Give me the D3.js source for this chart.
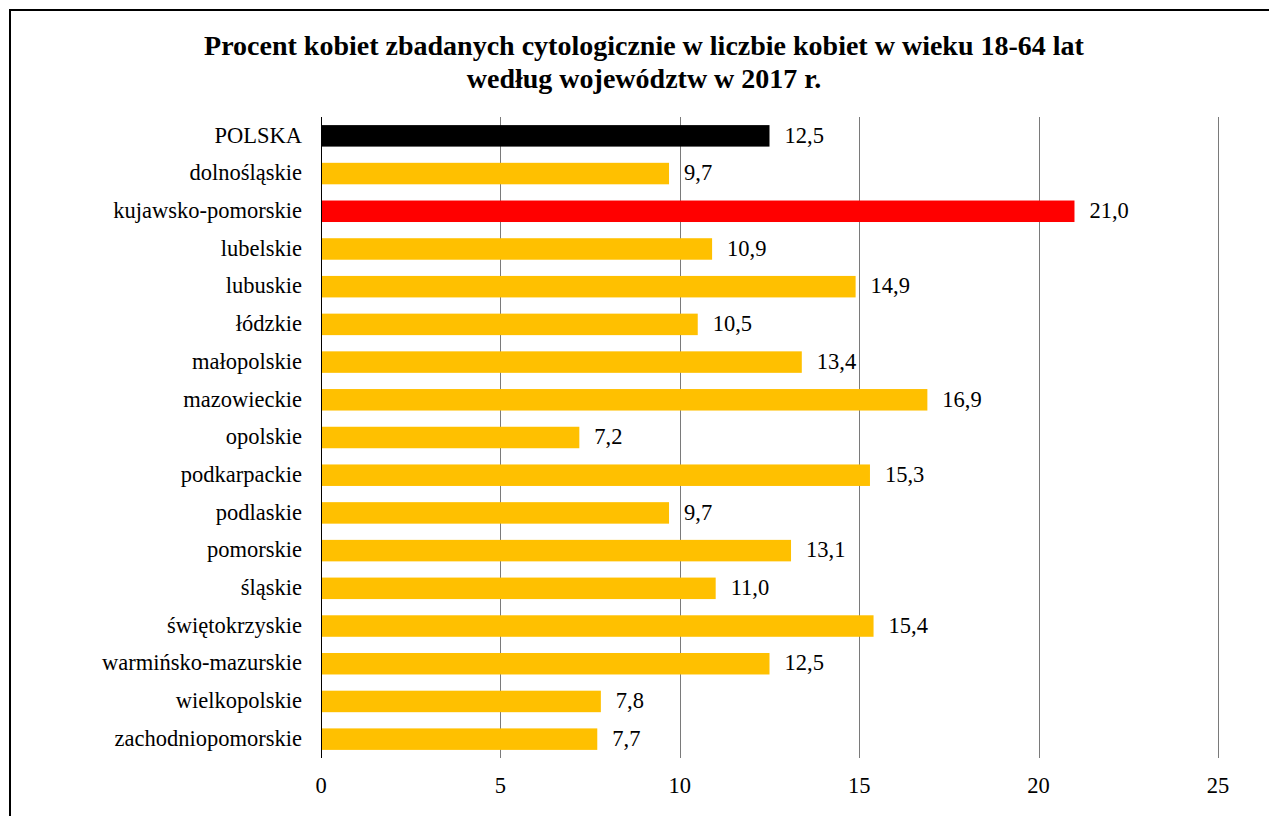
<!DOCTYPE html>
<html>
<head>
<meta charset="utf-8">
<script src="https://cdn.jsdelivr.net/npm/d3@7"></script>
<style>
  body { margin: 0; background: #fff; }
</style>
</head>
<body>
<div class="container"></div>
<script>
const regions = ["POLSKA", "dolnośląskie", "kujawsko-pomorskie", "lubelskie", "lubuskie", "łódzkie",
                 "małopolskie", "mazowieckie", "opolskie", "podkarpackie", "podlaskie", "pomorskie",
                 "śląskie", "świętokrzyskie", "warmińsko-mazurskie", "wielkopolskie", "zachodniopomorskie"];
const values = [12.5, 9.7, 21.0, 10.9, 14.9, 10.5, 13.4, 16.9, 7.2, 15.3, 9.7, 13.1, 11.0, 15.4, 12.5, 7.8, 7.7];
const xTicks = [0, 5, 10, 15, 20, 25];
const titleLines = ["Procent kobiet zbadanych cytologicznie w liczbie kobiet w wieku 18-64 lat",
                    "według województw w 2017 r."];

const width = 1269, height = 816;
const font = "Liberation Serif";
const svg = d3.select(".container")
              .append("svg")
              .attr("width", width)
              .attr("height", height);

// chart frame (runs past the window on the right and bottom)
svg.append("rect")
   .attr("x", 10).attr("y", 10)
   .attr("width", 1300).attr("height", 900)
   .attr("fill", "none")
   .attr("stroke", "#000")
   .attr("stroke-width", 2);

svg.selectAll("text.title")
   .data(titleLines)
   .join("text")
   .attr("class", "title")
   .attr("x", 644)
   .attr("y", (d, i) => 55 + i * 33)
   .attr("text-anchor", "middle")
   .attr("font-family", font)
   .attr("font-size", 28)
   .attr("font-weight", "bold")
   .text(d => d);

const x = d3.scaleLinear().domain([0, 25]).range([321, 1218]);
const y = d3.scaleBand().domain(regions).range([117, 758]).paddingInner(0.43).paddingOuter(0.215);

// gridlines
svg.selectAll("line.grid")
   .data(xTicks.slice(1))
   .join("line")
   .attr("class", "grid")
   .attr("x1", d => Math.round(x(d)) + 0.5).attr("x2", d => Math.round(x(d)) + 0.5)
   .attr("y1", 117).attr("y2", 758)
   .attr("stroke", "#7a7a7a")
   .attr("stroke-width", 1);

const colorOf = (d, i) => i === 0 ? "#000" : (d === "kujawsko-pomorskie" ? "#ff0000" : "#ffc000");

svg.selectAll("rect.bar")
   .data(regions)
   .join("rect")
   .attr("class", "bar")
   .attr("x", x(0))
   .attr("y", d => y(d))
   .attr("width", (d, i) => x(values[i]) - x(0))
   .attr("height", y.bandwidth())
   .attr("fill", colorOf);

// value axis baseline
svg.append("line")
   .attr("x1", x(0) + 0.5).attr("x2", x(0) + 0.5)
   .attr("y1", 117).attr("y2", 758)
   .attr("stroke", "#000");

// category labels
svg.selectAll("text.cat")
   .data(regions)
   .join("text")
   .attr("class", "cat")
   .attr("x", 302)
   .attr("y", d => y(d) + y.bandwidth() / 2)
   .attr("dy", "0.3em")
   .attr("text-anchor", "end")
   .attr("font-family", font)
   .attr("font-size", 22.5)
   .text(d => d);

// value labels
svg.selectAll("text.val")
   .data(values)
   .join("text")
   .attr("class", "val")
   .attr("x", d => x(d) + 15)
   .attr("y", (d, i) => y(regions[i]) + y.bandwidth() / 2)
   .attr("dy", "0.3em")
   .attr("font-family", font)
   .attr("font-size", 22.5)
   .text(d => d.toFixed(1).replace(".", ","));

// x tick labels
svg.selectAll("text.tick")
   .data(xTicks)
   .join("text")
   .attr("class", "tick")
   .attr("x", d => x(d))
   .attr("y", 793)
   .attr("text-anchor", "middle")
   .attr("font-family", font)
   .attr("font-size", 22.5)
   .text(d => d);
</script>
</body>
</html>
